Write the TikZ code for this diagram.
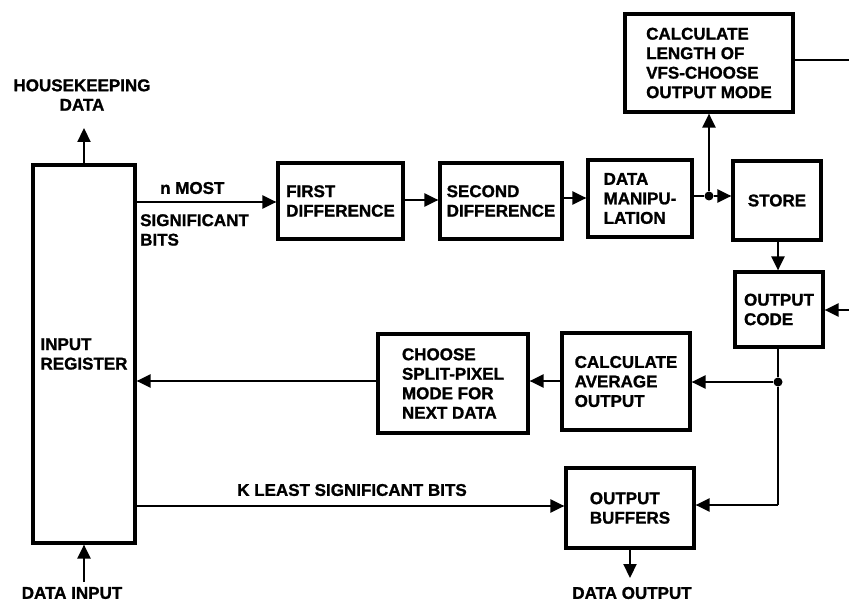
\documentclass[tikz,border=0pt]{standalone}
\usepackage{fontspec}
\setmainfont{Liberation Sans}[BoldFeatures={FakeBold=1.2}]
\usetikzlibrary{arrows.meta}
\begin{document}
\begin{tikzpicture}[x=1pt,y=-1pt,
  every node/.style={font=\fontsize{17}{19.5}\selectfont\bfseries},
  blk/.style={draw,line width=3.2pt,align=left,inner sep=0pt,anchor=center},
  conn/.style={line width=2.2pt},
  arr/.style={conn,-{Triangle[length=14pt,width=13pt]}},
  lbl/.style={inner sep=0pt,align=center},
  dot/.style={circle,fill,inner sep=0pt,minimum size=9pt}]
\useasboundingbox (0,0) rectangle (849,604);
% boxes
\node[blk,minimum width=102pt,minimum height=378pt] (reg) at (84,354) {INPUT\\REGISTER};
\node[blk,minimum width=125pt,minimum height=76pt] (fd) at (340.5,201) {FIRST\\DIFFERENCE};
\node[blk,minimum width=122pt,minimum height=76pt] (sd) at (501,201) {SECOND\\DIFFERENCE};
\node[blk,minimum width=104pt,minimum height=77pt] (dm) at (640,198.5) {DATA\\MANIPU-\\LATION};
\node[blk,minimum width=88pt,minimum height=79pt] (store) at (777,200.5) {STORE};
\node[blk,minimum width=168pt,minimum height=98pt] (calc) at (709,63) {CALCULATE\\LENGTH OF\\VFS-CHOOSE\\OUTPUT MODE};
\node[blk,minimum width=88pt,minimum height=75pt] (oc) at (779,309.5) {OUTPUT\\CODE};
\node[blk,minimum width=128pt,minimum height=97pt] (avg) at (626,381.5) {CALCULATE\\AVERAGE\\OUTPUT};
\node[blk,minimum width=150pt,minimum height=99pt] (choose) at (453,383.5) {CHOOSE\\SPLIT-PIXEL\\MODE FOR\\NEXT DATA};
\node[blk,minimum width=128pt,minimum height=80pt] (buf) at (630,508) {OUTPUT\\BUFFERS};
% free ends and junctions
\coordinate (hk) at (84,128);
\coordinate (din) at (84,582);
\coordinate (dout) at (630,578);
\coordinate (calcout) at (849,60);
\coordinate (ocin) at (849,310);
\node[dot] (j1) at (709,196) {};
\node[dot] (j2) at (778,382) {};
\coordinate (corner) at (778,505);
% labels
\node[lbl] (lhk) at (82,95) {HOUSEKEEPING\\DATA};
\node[lbl] (ldin) at (72,593) {DATA INPUT};
\node[lbl] (ldout) at (632,593) {DATA OUTPUT};
\node[lbl,anchor=west] (lnm) at (160,188) {n MOST};
\node[lbl,anchor=north west,align=left] (lsig) at (140,214) {SIGNIFICANT\\BITS};
\node[lbl] (lk) at (352,490) {K LEAST SIGNIFICANT BITS};
% connectors
\draw[arr] (reg.north) -- (hk);
\draw[arr] (din) -- (reg.south);
\draw[arr] (reg.east |- 0,202) -- (fd.west |- 0,202);
\draw[arr] (fd.east |- 0,200) -- (sd.west |- 0,200);
\draw[arr] (sd.east |- 0,198) -- (dm.west |- 0,198);
\draw[conn] (dm.east |- j1) -- (j1);
\draw[arr] (j1) -- (store.west |- j1);
\draw[arr] (j1) -- (calc.south -| j1);
\draw[conn] (calc.east |- calcout) -- (calcout);
\draw[arr] (store.south -| 778,0) -- (oc.north -| 778,0);
\draw[arr] (ocin) -- (oc.east |- ocin);
\draw[conn] (oc.south -| j2) -- (j2);
\draw[arr] (j2) -- (avg.east |- j2);
\draw[conn] (j2) -- (corner);
\draw[arr] (corner) -- (buf.east |- corner);
\draw[arr] (avg.west |- 0,381) -- (choose.east |- 0,381);
\draw[arr] (choose.west |- 0,381) -- (reg.east |- 0,381);
\draw[arr] (reg.east |- 0,506) -- (buf.west |- 0,506);
\draw[arr] (buf.south) -- (dout);
\end{tikzpicture}
\end{document}
